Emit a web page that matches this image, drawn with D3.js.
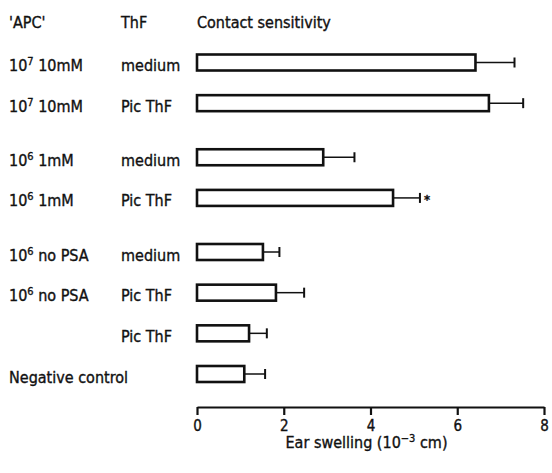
<!DOCTYPE html>
<html>
<head>
<meta charset="utf-8">
<script src="https://cdn.jsdelivr.net/npm/d3@7"></script>
<style>
  html, body { margin: 0; padding: 0; background: #fff; }
  svg { display: block; }
  text { font-family: "DejaVu Sans Condensed", "DejaVu Sans", sans-serif; fill: #111; stroke: #111; stroke-width: 0.35px; }
</style>
</head>
<body>
<svg id="chart" width="552" height="473"></svg>
<script>
// ---- data ----
const apcLabels = ["10^7 10mM", "10^7 10mM", "10^6 1mM", "10^6 1mM", "10^6 no PSA", "10^6 no PSA", "", "Negative control"];
const thfLabels = ["medium", "Pic ThF", "medium", "Pic ThF", "medium", "Pic ThF", "Pic ThF", ""];
const groups = [0, 0, 1, 1, 2, 2, 2, 2];
const means = [6.42, 6.73, 2.91, 4.52, 1.52, 1.82, 1.20, 1.09];
const errors = [0.90, 0.79, 0.72, 0.62, 0.38, 0.65, 0.41, 0.48];
const significant = [false, false, false, true, false, false, false, false];
const xTicks = [0, 2, 4, 6, 8];
const headers = ["'APC'", "ThF", "Contact sensitivity"];
const xTitle = "Ear swelling (10^−3 cm)";

// ---- layout ----
const svg = d3.select("#chart");
const groupGap = 0.33;
const slots = means.map((d, i) => i + groups[i] * groupGap);
const x = d3.scaleLinear().domain([0, 8]).range([197, 544]);
const y = d3.scaleLinear().domain([0, d3.max(slots)]).range([62.5, 374]);
const barH = 16;
const col1 = 9, col2 = 121;
const fs = 16;

function addLabel(sel, str, supSize, supDy) {
  const parts = str.split(/\^(\S+)/);
  let pending = 0;
  parts.forEach((p, k) => {
    if (p === "") return;
    if (k % 2 === 1) {
      sel.append("tspan").attr("font-size", supSize).attr("dy", supDy + pending).text(p);
      pending = -supDy;
    } else {
      sel.append("tspan").attr("dy", pending).text(p);
      pending = 0;
    }
  });
}

// headers
svg.append("text").attr("x", col1).attr("y", 28).attr("font-size", fs).text(headers[0]);
svg.append("text").attr("x", col2).attr("y", 28).attr("font-size", fs).text(headers[1]);
svg.append("text").attr("x", x(0)).attr("y", 28).attr("font-size", fs).text(headers[2]);

// row labels
means.forEach((m, i) => {
  const cy = y(slots[i]);
  if (apcLabels[i]) {
    const t = svg.append("text").attr("x", col1).attr("y", cy + 8.5).attr("font-size", fs);
    addLabel(t, apcLabels[i], 11, -6);
  }
  if (thfLabels[i]) {
    svg.append("text").attr("x", col2).attr("y", cy + 8.5).attr("font-size", fs).text(thfLabels[i]);
  }
});

// error bars
const eb = svg.append("g").attr("stroke", "#111").attr("fill", "none");
means.forEach((m, i) => {
  const cy = y(slots[i]);
  eb.append("line").attr("x1", x(m)).attr("x2", x(m + errors[i]))
    .attr("y1", cy).attr("y2", cy).attr("stroke-width", 1.5);
  eb.append("line").attr("x1", x(m + errors[i])).attr("x2", x(m + errors[i]))
    .attr("y1", cy - 5).attr("y2", cy + 5).attr("stroke-width", 2);
});

// bars
svg.append("g").selectAll("rect").data(means).join("rect")
  .attr("x", x(0))
  .attr("y", (d, i) => y(slots[i]) - barH / 2)
  .attr("width", d => x(d) - x(0))
  .attr("height", barH)
  .attr("fill", "#fff")
  .attr("stroke", "#111")
  .attr("stroke-width", 2.6);

// significance asterisks
means.forEach((m, i) => {
  if (significant[i]) {
    svg.append("text").attr("x", x(m + errors[i]) + 4).attr("y", y(slots[i]) + 6)
      .attr("font-size", 13).attr("font-weight", "bold").text("*");
  }
});

// x axis
const axisY = 407;
const axis = d3.axisBottom(x).tickValues(xTicks).tickFormat(d3.format("d"))
  .tickSize(8).tickSizeOuter(0).tickPadding(5);
const ag = svg.append("g").attr("transform", `translate(0,${axisY})`).call(axis);
ag.select(".domain").attr("stroke", "#111").attr("stroke-width", 2.2);
ag.selectAll(".tick line").attr("stroke", "#111").attr("stroke-width", 2.2);
ag.selectAll(".tick text").attr("font-size", 15)
  .attr("font-family", '"DejaVu Sans Condensed", "DejaVu Sans", sans-serif')
  .attr("fill", "#111").attr("stroke", "#111").attr("stroke-width", 0.35);

// x title
const tt = svg.append("text").attr("x", (x(0) + x(8)) / 2 - 4).attr("y", 448)
  .attr("text-anchor", "middle").attr("font-size", fs);
addLabel(tt, xTitle, 11, -6);
</script>
</body>
</html>
